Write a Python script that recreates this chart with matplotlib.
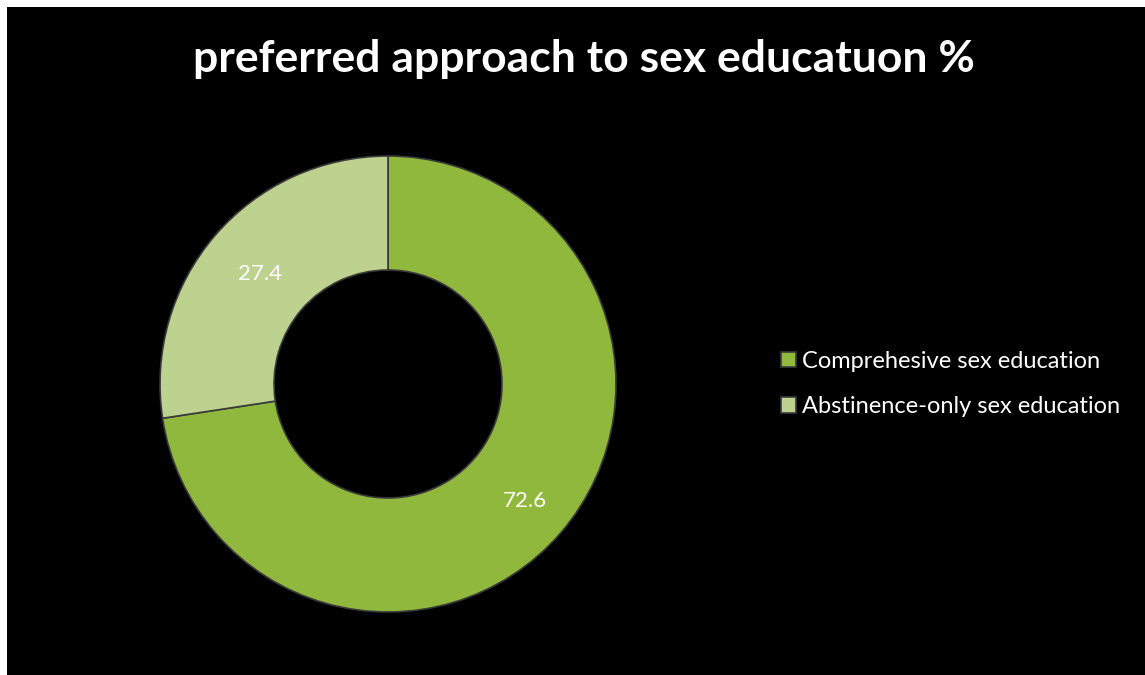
import matplotlib.pyplot as plt
import numpy as np
from matplotlib.patches import Rectangle

labels = ['Comprehesive sex education', 'Abstinence-only sex education']
values = [72.6, 27.4]
colors = ['#8fb83c', '#bcd28e']

plt.rcParams['font.family'] = ['Lato', 'DejaVu Sans']

fig = plt.figure(figsize=(11.45, 6.75), dpi=100, facecolor='white')
# black chart area inside a thin white margin
fig.patches.append(Rectangle((7 / 1145, 0), 1, 1 - 7 / 675, transform=fig.transFigure,
                             facecolor='black', edgecolor='none', zorder=-1))

ax = fig.add_axes([160 / 1145, 63 / 675, 456 / 1145, 456 / 675])
ax.set_facecolor('none')
wedges, _ = ax.pie(values, colors=colors, startangle=90, counterclock=False,
                   radius=1, wedgeprops=dict(width=0.5, edgecolor='#3a3a3a', linewidth=1.2))
ax.set_xlim(-1, 1)
ax.set_ylim(-1, 1)
ax.set_aspect('equal')

# value labels inside the ring
dists = [0.79, 0.74]
for w, v, d in zip(wedges, values, dists):
    ang = np.deg2rad((w.theta1 + w.theta2) / 2)
    ax.text(d * np.cos(ang), d * np.sin(ang), f'{v}', color='white', fontsize=16,
            ha='center', va='center')

fig.text(584 / 1145, 1 - 72 / 675, 'preferred approach to sex educatuon %', color='white',
         fontsize=32, fontweight='bold', ha='center', va='baseline')

leg = fig.legend(wedges, labels, loc='center left', bbox_to_anchor=(781 / 1145, 1 - 384 / 675),
                 frameon=False, fontsize=17, labelcolor='white', handlelength=0.64,
                 handleheight=0.64, handletextpad=0.25, labelspacing=1.05,
                 borderpad=0, borderaxespad=0)

fig.savefig('out.png', dpi=100, facecolor=fig.get_facecolor())
